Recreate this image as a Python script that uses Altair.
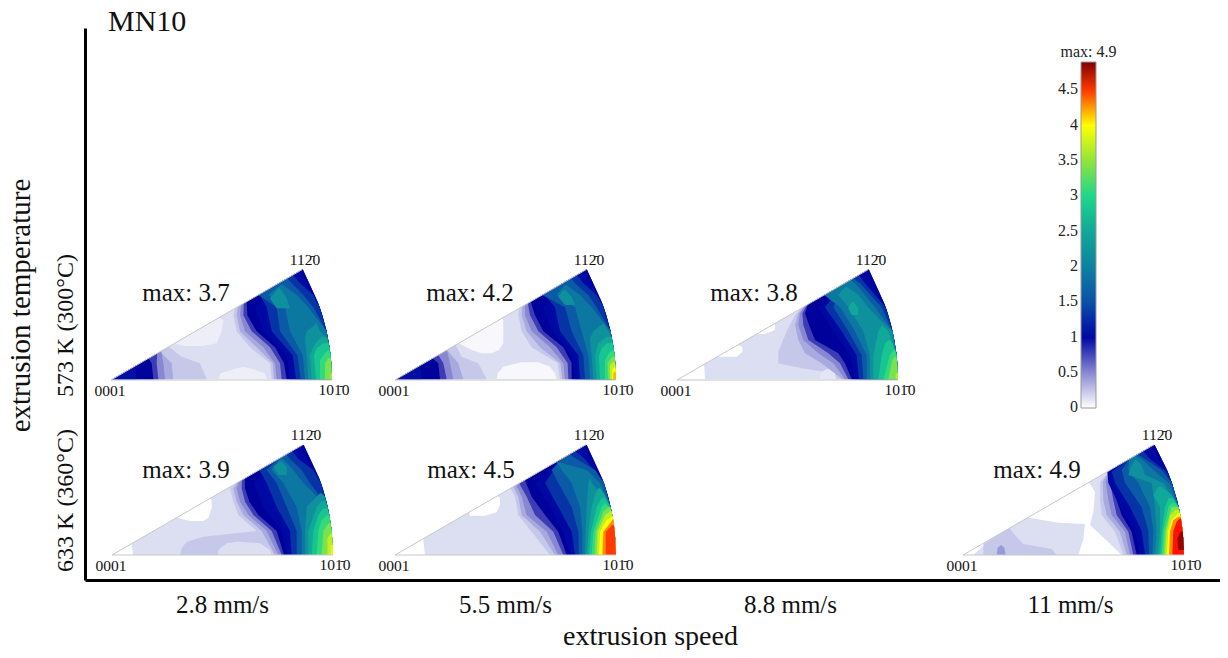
import altair as alt
import pandas as pd
import math

SERIF = "Liberation Serif"
SPEED_POS = [222, 505, 790, 1070]
SPEED_LABELS = ["2.8 mm/s", "5.5 mm/s", "8.8 mm/s", "11 mm/s"]
TEMP_POS = [325, 500]
TEMP_LABELS = ["573 K (300°C)", "633 K (360°C)"]
COLOR_VALUES = [0, 0.1, 0.2, 0.3, 0.4, 0.5, 0.7, 0.85, 1.0, 1.5, 2.0, 2.5, 3.0, 3.5, 4.0, 4.3, 4.6, 4.9]
COLOR_RANGE = ["#ffffff", "#eeeef8", "#dcdef2", "#c6c8ea", "#a8a9de", "#8888d2", "#3c3cb4", "#00009a", "#0008a4",
               "#0a50a8", "#0d82a0", "#10a898", "#1cd88c", "#90e43c", "#ffff00", "#ff8c00", "#ff1000", "#800000"]
BAR_TICKS = [0, 0.5, 1, 1.5, 2, 2.5, 3, 3.5, 4, 4.5]
BAR_TICK_LABELS = ["0", "0.5", "1", "1.5", "2", "2.5", "3", "3.5", "4", "4.5"]
BAR_X = 1081
BAR_W = 15
BAR_BOTTOM = 407.4
BAR_PER_UNIT = 70.67

# rows of each contour: (row, left, right) read in 3x crop coordinates; left 0 = wedge edge, right 999 = rim
W1_CROP, W1_APEX = (90, 245), (111, 380)
W1 = [
 (0.2, [(403,0,999),(350,0,999),(300,0,999),(250,0,999),(200,0,999),(150,0,999),(100,0,999),(73,0,999)]),
 (0.1, [(303,280,340),(295,0,380),(259,0,395),(225,0,400),(218,0,0)]),
 (0.1, [(403,385,530),(385,392,525),(370,440,480),(366,460,460)]),
 (0.3, [(403,0,350),(355,0,330),(335,0,275),(305,0,0)]),
 (0.4, [(403,0,250),(355,0,245),(320,0,0)]),
 (0.5, [(403,0,225),(355,0,220),(318,0,0)]),
 (0.7, [(403,0,205),(355,0,200),(325,0,0)]),
 (0.85, [(403,0,190),(355,0,185),(340,0,0)]),
 (1.05, [(403,0,140),(365,0,135),(361,0,0)]),
 (0.3, [(403,545,999),(355,540,999),(307,480,999),(259,440,999),(211,430,999),(190,0,999),(73,0,999)]),
 (0.4, [(403,552,999),(355,548,999),(307,500,999),(259,450,999),(211,440,999),(185,0,999),(73,0,999)]),
 (0.5, [(403,560,999),(355,555,999),(307,520,999),(259,465,999),(211,450,999),(180,0,999),(73,0,999)]),
 (0.7, [(403,575,999),(355,570,999),(307,540,999),(259,485,999),(211,460,999),(175,0,999),(73,0,999)]),
 (0.85, [(403,590,999),(355,582,999),(307,555,999),(259,500,999),(211,472,999),(170,0,999),(73,0,999)]),
 (1.0, [(403,600,999),(331,590,999),(259,520,999),(187,495,999),(115,0,650),(76,0,0)]),
 (1.3, [(403,618,999),(331,608,999),(259,545,999),(187,530,999),(150,510,670),(115,0,630),(90,0,0)]),
 (1.6, [(403,632,999),(331,622,999),(259,570,999),(187,560,670),(150,0,640),(115,0,605),(100,0,0)]),
 (1.9, [(403,645,999),(331,638,999),(259,600,999),(187,585,655),(150,535,620),(125,565,585),(118,575,575)]),
 (2.2, [(403,655,999),(331,650,999),(280,645,999),(259,650,690),(235,680,680)]),
 (2.2, [(190,560,600),(160,540,590),(130,565,570)]),
 (2.5, [(403,665,999),(331,660,999),(295,675,999),(280,690,710),(275,700,700)]),
 (2.8, [(403,678,999),(331,672,999),(310,680,999),(295,700,715)]),
 (3.1, [(403,690,999),(345,690,999),(325,705,722),(315,715,715)]),
 (3.4, [(403,705,999),(355,705,999),(340,715,722)]),
 (3.7, [(403,722,999),(385,722,999)]),
]

W2_CROP, W2_APEX = (375, 245), (395, 380)
W2 = [
 (0.2, [(403,0,999),(350,0,999),(300,0,999),(250,0,999),(200,0,999),(150,0,999),(100,0,999),(73,0,999)]),
 (0.05, [(325,320,350),(315,290,372),(295,0,385),(259,0,385),(225,0,385),(220,0,0)]),
 (0.05, [(403,365,545),(385,368,540),(365,385,525),(352,440,490)]),
 (0.3, [(403,0,335),(355,0,310),(335,0,260),(300,0,0)]),
 (0.4, [(403,0,265),(355,0,250),(315,0,0)]),
 (0.5, [(403,0,235),(355,0,225),(315,0,0)]),
 (0.7, [(403,0,215),(355,0,205),(330,0,0)]),
 (0.85, [(403,0,195),(355,0,190),(340,0,0)]),
 (1.05, [(403,0,140),(365,0,135),(361,0,0)]),
 (0.3, [(403,555,999),(355,548,999),(307,470,999),(259,440,999),(211,430,999),(190,0,999),(73,0,999)]),
 (0.4, [(403,562,999),(355,556,999),(307,495,999),(259,455,999),(211,440,999),(185,0,999),(73,0,999)]),
 (0.5, [(403,570,999),(355,565,999),(307,525,999),(259,470,999),(211,450,999),(180,0,999),(73,0,999)]),
 (0.7, [(403,580,999),(355,578,999),(307,545,999),(259,490,999),(211,465,999),(175,0,999),(73,0,999)]),
 (0.85, [(403,590,999),(355,590,999),(307,565,999),(259,505,999),(211,480,999),(170,0,999),(73,0,999)]),
 (1.0, [(403,600,999),(331,590,999),(259,530,999),(187,505,999),(115,0,648),(76,0,0)]),
 (1.3, [(403,615,999),(331,610,999),(259,555,999),(187,540,999),(150,510,665),(115,0,625),(90,0,0)]),
 (1.6, [(403,630,999),(331,625,999),(259,590,999),(187,570,665),(150,0,640),(115,0,600),(100,0,0)]),
 (1.9, [(403,645,999),(331,640,999),(259,620,999),(187,600,650),(150,545,615),(125,565,580),(118,575,575)]),
 (2.2, [(403,655,999),(331,650,999),(280,645,999),(259,655,700),(235,685,685)]),
 (2.2, [(180,570,600),(155,550,590),(135,565,570)]),
 (2.5, [(403,665,999),(331,660,999),(295,670,999),(275,695,710)]),
 (2.8, [(403,675,999),(331,672,999),(310,680,999),(295,695,715)]),
 (3.1, [(403,690,999),(345,690,999),(325,702,720),(315,712,712)]),
 (3.4, [(403,700,999),(355,698,999),(335,712,720)]),
 (3.7, [(403,705,999),(360,705,999),(350,715,718)]),
 (4.0, [(403,712,999),(375,712,999),(365,718,720)]),
 (4.2, [(403,715,999),(385,715,999),(378,720,720)]),
]

W3_CROP, W3_APEX = (655, 245), (677, 380)
W3 = [
 (0.2, [(403,0,999),(350,0,999),(300,0,999),(250,0,999),(200,0,999),(150,0,999),(100,0,999),(73,0,999)]),
 (0.0, [(403,0,150),(365,0,148),(360,0,0)]),
 (0.0, [(335,0,245),(320,0,262),(305,0,262),(300,0,0)]),
 (0.0, [(267,0,330),(255,0,360),(240,0,360),(236,0,0)]),
 (0.3, [(403,545,999),(385,540,999),(370,440,999),(355,370,999),(320,370,999),(259,395,999),(211,420,999),(190,0,999),(73,0,999)]),
 (0.15, [(403,495,540),(385,495,540),(372,515,525)]),
 (0.4, [(403,562,999),(355,500,999),(325,450,999),(285,430,999),(240,420,999),(205,430,999),(185,0,999),(73,0,999)]),
 (0.5, [(403,570,999),(355,535,999),(325,490,999),(285,445,999),(240,430,999),(205,435,999),(185,0,999),(73,0,999)]),
 (0.7, [(403,580,999),(355,555,999),(325,520,999),(285,460,999),(240,445,999),(205,442,999),(180,0,999),(73,0,999)]),
 (0.85, [(403,590,999),(355,570,999),(325,550,999),(285,480,999),(240,462,999),(205,450,999),(178,0,999),(73,0,999)]),
 (1.0, [(403,600,999),(331,585,999),(259,535,999),(187,490,999),(115,0,648),(76,0,0)]),
 (1.3, [(403,612,999),(331,605,999),(259,560,999),(187,510,999),(115,0,630),(90,0,0)]),
 (1.6, [(403,625,999),(331,620,999),(259,580,999),(187,535,680),(115,0,615),(100,0,0)]),
 (1.9, [(403,635,999),(331,635,999),(259,600,999),(187,555,660),(150,0,630),(115,0,600),(105,0,0)]),
 (2.2, [(403,645,999),(331,645,999),(259,625,999),(220,600,670),(187,580,640),(150,550,610),(125,570,575)]),
 (2.5, [(403,655,999),(331,655,999),(259,670,700),(240,680,680)]),
 (2.5, [(210,590,610),(190,580,610),(170,590,595)]),
 (2.8, [(403,670,999),(331,680,999),(295,690,712),(285,700,705)]),
 (3.1, [(403,685,999),(331,705,999),(315,715,720)]),
 (3.4, [(403,700,999),(345,712,999),(335,720,722)]),
 (3.7, [(403,722,999),(385,722,999)]),
]

W4_CROP, W4_APEX = (90, 425), (112, 555)
W4 = [
 (0.2, [(390,0,999),(340,0,999),(290,0,999),(240,0,999),(190,0,999),(140,0,999),(90,0,999),(60,0,999)]),
 (0.0, [(390,0,130),(360,0,125),(355,0,0)]),
 (0.0, [(288,300,340),(278,0,355),(250,0,365),(225,0,365),(220,0,0)]),
 (0.3, [(390,270,999),(370,275,999),(350,290,999),(335,340,999),(318,500,999),(270,445,999),(230,430,999),(190,420,999),(175,0,999),(60,0,999)]),
 (0.2, [(390,385,545),(375,385,540),(355,410,510),(350,440,450)]),
 (0.4, [(390,555,999),(318,515,999),(270,460,999),(230,440,999),(190,430,999),(172,0,999),(60,0,999)]),
 (0.5, [(390,565,999),(318,530,999),(270,475,999),(230,450,999),(190,440,999),(170,0,999),(60,0,999)]),
 (0.7, [(390,575,999),(318,545,999),(270,490,999),(230,465,999),(190,455,999),(165,0,999),(60,0,999)]),
 (0.85, [(390,582,999),(318,560,999),(270,505,999),(230,478,999),(190,465,999),(160,0,999),(60,0,999)]),
 (1.0, [(390,590,999),(318,575,999),(246,520,999),(174,490,999),(102,0,650),(64,0,0)]),
 (1.3, [(390,605,999),(318,600,999),(246,560,999),(174,530,999),(135,0,670),(102,0,625),(78,0,0)]),
 (1.6, [(390,620,999),(318,620,999),(246,590,999),(174,560,660),(135,530,635),(102,0,600),(88,0,0)]),
 (1.9, [(390,635,999),(318,635,999),(246,620,999),(174,580,640),(135,545,610),(108,565,585),(100,575,575)]),
 (2.2, [(390,645,999),(318,645,999),(246,650,999),(215,680,705),(205,690,695)]),
 (2.2, [(150,565,590),(125,550,590),(110,570,575)]),
 (2.5, [(390,655,999),(318,655,999),(246,680,999),(228,695,705)]),
 (2.8, [(390,665,999),(318,670,999),(270,685,999),(250,700,712)]),
 (3.1, [(390,680,999),(318,685,999),(285,695,999),(270,712,718)]),
 (3.4, [(390,695,999),(318,700,999),(295,715,722)]),
 (3.7, [(390,712,999),(340,712,999),(325,722,724)]),
 (3.9, [(390,722,999),(360,722,999)]),
]

W5_CROP, W5_APEX = (375, 425), (395, 555)
W5 = [
 (0.2, [(390,0,999),(340,0,999),(290,0,999),(240,0,999),(190,0,999),(140,0,999),(90,0,999),(60,0,999)]),
 (0.0, [(390,0,150),(345,0,145),(340,0,0)]),
 (0.0, [(272,285,330),(262,0,365),(240,0,375),(218,0,375),(213,0,0)]),
 (0.3, [(390,525,999),(320,470,999),(270,430,999),(215,420,999),(190,0,999),(60,0,999)]),
 (0.4, [(390,540,999),(320,495,999),(270,440,999),(215,430,999),(185,0,999),(60,0,999)]),
 (0.5, [(390,550,999),(320,515,999),(270,455,999),(215,440,999),(180,0,999),(60,0,999)]),
 (0.7, [(390,565,999),(320,535,999),(270,480,999),(215,455,999),(175,0,999),(60,0,999)]),
 (0.85, [(390,575,999),(320,550,999),(270,510,999),(215,470,999),(165,0,999),(60,0,999)]),
 (1.0, [(390,585,999),(320,565,999),(246,525,999),(174,480,999),(102,0,650),(64,0,0)]),
 (1.3, [(390,600,999),(320,590,999),(246,550,999),(174,510,999),(102,0,630),(78,0,0)]),
 (1.6, [(390,612,999),(320,610,999),(246,590,999),(174,550,999),(135,530,660),(102,0,605),(88,0,0)]),
 (1.9, [(390,622,999),(320,622,999),(246,615,999),(174,590,675),(135,560,635),(110,0,0)]),
 (2.2, [(390,630,999),(320,632,999),(246,635,999),(174,640,650),(160,645,645)]),
 (2.5, [(390,636,999),(320,640,999),(246,650,999),(210,660,690),(190,670,675)]),
 (2.8, [(390,642,999),(320,648,999),(246,665,705),(220,680,690)]),
 (3.1, [(390,650,999),(320,655,999),(246,680,700),(235,690,690)]),
 (3.4, [(390,658,999),(320,662,999),(260,685,999),(246,700,705)]),
 (3.7, [(390,665,999),(320,668,999),(270,690,999),(258,708,712)]),
 (4.0, [(390,672,999),(320,675,999),(285,695,999),(272,715,718)]),
 (4.3, [(390,682,999),(320,685,999),(295,705,722),(282,715,718)]),
 (4.5, [(390,692,999),(320,692,999),(300,712,722)]),
]

W6_CROP, W6_APEX = (945, 425), (963, 555)
W6 = [
 (0.0, [(390,0,999),(340,0,999),(290,0,999),(240,0,999),(190,0,999),(140,0,999),(90,0,999),(60,0,999)]),
 (0.2, [(390,85,400),(342,0,415),(297,0,420),(293,0,340),(280,0,260),(277,0,0)]),
 (0.3, [(390,115,335),(372,115,320),(357,115,235),(325,0,205),(309,0,0)]),
 (0.45, [(390,155,182),(368,158,178),(360,168,168)]),
 (0.2, [(390,530,999),(342,480,999),(300,435,999),(260,445,999),(200,450,999),(172,0,999),(60,0,999)]),
 (0.3, [(390,535,999),(320,510,999),(270,470,999),(225,465,999),(170,465,999),(135,0,999),(60,0,999)]),
 (0.4, [(390,545,999),(320,525,999),(270,485,999),(225,475,999),(170,473,999),(135,0,999),(60,0,999)]),
 (0.5, [(390,555,999),(320,540,999),(270,500,999),(225,490,999),(170,482,999),(135,0,999),(60,0,999)]),
 (0.7, [(390,565,999),(320,550,999),(270,515,999),(225,505,999),(170,495,999),(135,0,999),(60,0,999)]),
 (0.85, [(390,575,999),(320,560,999),(270,530,999),(225,515,999),(170,505,999),(135,0,999),(60,0,999)]),
 (1.0, [(390,585,999),(318,570,999),(246,525,999),(174,490,999),(140,0,999),(102,0,640),(64,0,0)]),
 (1.3, [(390,600,999),(318,590,999),(246,555,999),(174,510,999),(140,500,665),(102,0,615),(78,0,0)]),
 (1.6, [(390,612,999),(318,610,999),(246,590,999),(174,540,999),(135,530,650),(102,0,600),(88,0,0)]),
 (1.9, [(390,622,999),(318,625,999),(246,615,999),(174,580,672),(135,550,625),(102,0,590),(92,0,0)]),
 (2.2, [(390,630,999),(318,635,999),(246,630,999),(174,620,655),(150,550,600),(120,560,590),(105,570,575)]),
 (2.5, [(390,638,999),(318,645,999),(246,645,999),(210,625,680),(185,640,650)]),
 (2.8, [(390,645,999),(318,650,999),(246,660,700),(220,670,685)]),
 (3.1, [(390,650,999),(318,655,999),(246,670,700),(235,680,690)]),
 (3.4, [(390,655,999),(318,660,999),(262,675,999),(246,680,700)]),
 (3.7, [(390,660,999),(318,665,999),(270,675,999),(255,690,702)]),
 (4.0, [(390,666,999),(318,670,999),(285,680,999),(265,700,708)]),
 (4.3, [(390,672,999),(318,675,999),(285,685,999),(275,700,708)]),
 (4.6, [(390,682,999),(318,685,999),(290,695,999),(280,705,712)]),
 (4.85, [(375,700,999),(340,697,999),(320,706,714)]),
]

WEDGES = [(W1, W1_CROP, W1_APEX), (W2, W2_CROP, W2_APEX), (W3, W3_CROP, W3_APEX),
          (W4, W4_CROP, W4_APEX), (W5, W5_CROP, W5_APEX), (W6, W6_CROP, W6_APEX)]
MAX_LABELS = ["max: 3.7", "max: 4.2", "max: 3.8", "max: 3.9", "max: 4.5", "max: 4.9"]
MAX_POS = [(186, 293), (470, 293), (754, 293), (186, 470), (471, 470), (1037, 470)]
RADIUS = 221

rows = []
for wi, (levels, crop, apex) in enumerate(WEDGES):
    for li, (val, contour) in enumerate(levels):
        for (r, left, right) in contour:
            y = crop[1] + r / 3
            v = apex[1] - y
            lo = apex[0] + math.sqrt(3) * max(v, 0)
            hi = apex[0] + math.sqrt(max(RADIUS ** 2 - v ** 2, 0))
            a = max(crop[0] + left / 3, lo)
            b = min(crop[0] + right / 3, hi)
            rows.append(dict(poly=f"{wi:02d}-{li:02d}", value=val, y=y, x=a, x2=max(a, b)))
df = pd.DataFrame(rows)

xs = alt.Scale(domain=[85, 1220], nice=False, zero=False)
ys = alt.Scale(domain=[580, 28], nice=False, zero=False)


def label_expr(pos, labels):
    return "".join(f"datum.value=={p}?'{t}':" for p, t in zip(pos, labels)) + "''"


bands = alt.Chart(df).mark_area(orient="horizontal", interpolate="linear").encode(
    y=alt.Y("y:Q", scale=ys, axis=alt.Axis(values=TEMP_POS, labelExpr=label_expr(TEMP_POS, TEMP_LABELS), title="extrusion temperature",
            titleFont=SERIF, titleFontSize=29, titleFontWeight="normal", titleColor="#111", titleX=-50, titleY=277,
            labelFont=SERIF, labelFontSize=24, labelColor="#111", labelAngle=270, labelAlign="center", labelBaseline="bottom",
            labelPadding=8, ticks=False, grid=False, domainColor="#000", domainWidth=3)),
    x=alt.X("x:Q", scale=xs, axis=alt.Axis(values=SPEED_POS, labelExpr=label_expr(SPEED_POS, SPEED_LABELS), title="extrusion speed",
            titleFont=SERIF, titleFontSize=28, titleFontWeight="normal", titleColor="#111", titleX=565, titleY=42,
            labelFont=SERIF, labelFontSize=25, labelColor="#111", labelPadding=12, ticks=False, grid=False, domainColor="#000", domainWidth=3)),
    x2="x2:Q",
    detail="poly:N",
    color=alt.Color("value:Q", scale=alt.Scale(domain=COLOR_VALUES, range=COLOR_RANGE, interpolate="rgb"),
                    legend=alt.Legend(title=None, orient="none", legendX=BAR_X - 85, legendY=34, gradientLength=346, gradientThickness=BAR_W,
                                      labelExpr="''", gradientStrokeColor="#999", gradientStrokeWidth=1)),
)

edge_rows = []
for _, _, apex in WEDGES:
    edge_rows.append(dict(x=apex[0], y=apex[1], x2=apex[0] + RADIUS, y2=apex[1]))
    edge_rows.append(dict(x=apex[0], y=apex[1], x2=apex[0] + RADIUS * math.cos(math.radians(30)), y2=apex[1] - RADIUS * math.sin(math.radians(30))))
edges = alt.Chart(pd.DataFrame(edge_rows)).mark_rule(color="#c8c8c8", strokeWidth=1).encode(
    x=alt.X("x:Q", scale=xs), y=alt.Y("y:Q", scale=ys), x2="x2:Q", y2="y2:Q")

corner_rows = []
for _, _, apex in WEDGES:
    corner_rows.append(dict(x=apex[0] - 1, y=apex[1] + 11, t="0001"))
    corner_rows.append(dict(x=apex[0] + 223, y=apex[1] + 10, t="101\u03040"))
    corner_rows.append(dict(x=apex[0] + 194, y=apex[1] - 120, t="112\u03040"))
corners = alt.Chart(pd.DataFrame(corner_rows)).mark_text(font=SERIF, fontSize=15.5, color="#111", baseline="middle", align="center").encode(
    x=alt.X("x:Q", scale=xs), y=alt.Y("y:Q", scale=ys), text="t:N")

maxes = alt.Chart(pd.DataFrame([dict(x=p[0], y=p[1], t=t) for p, t in zip(MAX_POS, MAX_LABELS)])).mark_text(
    font=SERIF, fontSize=25, color="#111", baseline="middle", align="center").encode(
    x=alt.X("x:Q", scale=xs), y=alt.Y("y:Q", scale=ys), text="t:N")

bar_df = pd.DataFrame(dict(y=[BAR_BOTTOM - v * BAR_PER_UNIT for v in BAR_TICKS], t=BAR_TICK_LABELS, x=[BAR_X - 3] * len(BAR_TICKS),
                           tl=[BAR_X] * len(BAR_TICKS), tl2=[BAR_X + 3] * len(BAR_TICKS),
                           tr=[BAR_X + BAR_W - 3] * len(BAR_TICKS), tr2=[BAR_X + BAR_W] * len(BAR_TICKS)))
bar_labels = alt.Chart(bar_df).mark_text(font=SERIF, fontSize=16, color="#222", align="right", baseline="middle").encode(
    x=alt.X("x:Q", scale=xs), y=alt.Y("y:Q", scale=ys), text="t:N")
bar_ticks_l = alt.Chart(bar_df).mark_rule(color="#444", strokeWidth=1).encode(
    x=alt.X("tl:Q", scale=xs), x2="tl2:Q", y=alt.Y("y:Q", scale=ys))
bar_ticks_r = alt.Chart(bar_df).mark_rule(color="#444", strokeWidth=1).encode(
    x=alt.X("tr:Q", scale=xs), x2="tr2:Q", y=alt.Y("y:Q", scale=ys))
bar_title = alt.Chart(pd.DataFrame(dict(x=[BAR_X + 7.5], y=[52], t=["max: 4.9"]))).mark_text(
    font=SERIF, fontSize=16, color="#222", align="center", baseline="middle").encode(
    x=alt.X("x:Q", scale=xs), y=alt.Y("y:Q", scale=ys), text="t:N")

chart = alt.layer(bands, edges, corners, maxes, bar_labels, bar_ticks_l, bar_ticks_r, bar_title).properties(
    width=1135, height=552,
    padding={"left": 77, "top": 20, "right": 0, "bottom": 70},
    autosize=alt.AutoSizeParams(type="none"),
    title=alt.TitleParams("MN10", anchor="start", frame="group", font=SERIF, fontSize=30, fontWeight="normal", color="#111", dx=23, dy=13),
).configure_view(stroke=None).resolve_scale(x="shared", y="shared")

chart.save("out.html", embed_options={"renderer": "svg", "actions": False})
